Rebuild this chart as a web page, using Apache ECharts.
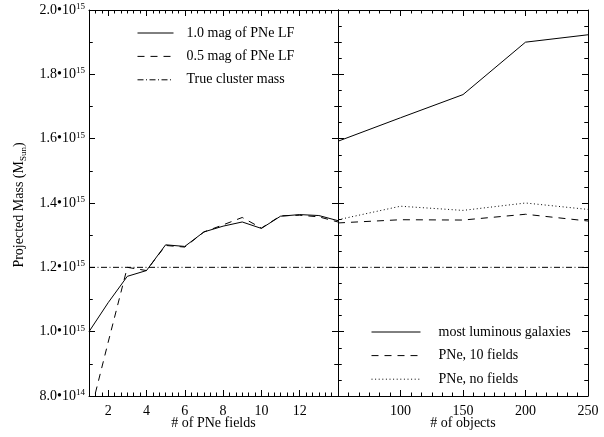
<!DOCTYPE html>
<html><head><meta charset="utf-8">
<script src="https://cdn.jsdelivr.net/npm/echarts@6/dist/echarts.min.js"></script>
<style>html,body{margin:0;padding:0;background:#fff}#c{width:604px;height:437px}</style>
</head><body><div id="c"></div>
<script>
// ---- data (mass in units of 1e15 M_sun) ----
const fieldCounts = [1,2,3,4,5,6,7,8,9,10,11,12,13,14];
const mass10mag = [1.0,1.09,1.172,1.19,1.27,1.265,1.31,1.328,1.341,1.321,1.359,1.364,1.361,1.345];
const mass05mag = [0.73,0.967,1.2,1.19,1.268,1.263,1.31,1.332,1.355,1.322,1.36,1.362,1.357,1.341];
const trueMass = 1.2;
const objectCounts = [50,100,150,200,250];
const massGalaxies = [1.592,1.665,1.737,1.90,1.923];
const massPNe10 = [1.338,1.348,1.347,1.365,1.344];
const massPNeNo = [1.348,1.39,1.377,1.40,1.38];
const fieldTickLabels = [2,4,6,8,10,12];
const objectTickLabels = [100,150,200,250];
const yMin = 0.8, yMax = 2.0, yStep = 0.2;
const fieldMin = 1, fieldMax = 14;
const objMin = 50, objMax = 250, objStep = 50;

const FONT = 'Liberation Serif';
const K = '#000';
const GL = {left:89, top:10, width:249, height:386};
const GR = {left:338, top:10, width:250, height:386};

function yFmt(v){
  if (v < 1 - 1e-9) return '{m|' + (v*10).toFixed(1) + '•10}{s|14}';
  return '{m|' + v.toFixed(1) + '•10}{s|15}';
}
function ts(){ return {color:K, width:1}; }
function lineOn(){ return {show:true, lineStyle:{color:K, width:1}}; }

const xAxes = [
  // 0: left panel, bottom: major ticks + labels
  {gridIndex:0, type:'value', position:'bottom', min:fieldMin, max:fieldMax,
   axisLine:lineOn(), splitLine:{show:false},
   axisTick:{show:true, inside:true, length:6, customValues:fieldTickLabels, lineStyle:ts()},
   axisLabel:{show:true, customValues:fieldTickLabels, color:K, fontFamily:FONT, fontSize:14, margin:8}},
  // 1: left panel, bottom: minor ticks
  {gridIndex:0, type:'value', position:'bottom', min:fieldMin, max:fieldMax, interval:1/3,
   axisLine:{show:false}, splitLine:{show:false}, axisLabel:{show:false},
   axisTick:{show:true, inside:true, length:3.5, lineStyle:ts()}},
  // 2: left panel, top edge (bottom axis shifted up, ticks pointing down)
  {gridIndex:0, type:'value', position:'bottom', offset:-GL.height, min:fieldMin, max:fieldMax,
   axisLine:lineOn(), splitLine:{show:false}, axisLabel:{show:false},
   axisTick:{show:true, inside:false, length:6, customValues:fieldTickLabels, lineStyle:ts()}},
  // 3: left panel, top edge minor ticks
  {gridIndex:0, type:'value', position:'bottom', offset:-GL.height, min:fieldMin, max:fieldMax, interval:1/3,
   axisLine:{show:false}, splitLine:{show:false}, axisLabel:{show:false},
   axisTick:{show:true, inside:false, length:3.5, lineStyle:ts()}},
  // 4: right panel bottom
  {gridIndex:1, type:'value', position:'bottom', min:objMin, max:objMax, interval:objStep,
   axisLine:lineOn(), splitLine:{show:false},
   axisTick:{show:true, inside:true, length:6, lineStyle:ts()},
   minorTick:{show:true, splitNumber:6, length:3.5, lineStyle:ts()},
   axisLabel:{show:true, customValues:objectTickLabels, color:K, fontFamily:FONT, fontSize:14, margin:8}},
  // 5: right panel top edge
  {gridIndex:1, type:'value', position:'bottom', offset:-GR.height, min:objMin, max:objMax, interval:objStep,
   axisLine:lineOn(), splitLine:{show:false}, axisLabel:{show:false},
   axisTick:{show:true, inside:false, length:6, lineStyle:ts()},
   minorTick:{show:true, splitNumber:6, length:3.5, lineStyle:ts()}}
];

function yLine(grid, pos, minorSplit, labels){
  const a = {gridIndex:grid, type:'value', position:pos, min:yMin, max:yMax, interval:yStep,
    axisLine:lineOn(), splitLine:{show:false},
    axisTick:{show:true, inside:true, length:6, lineStyle:ts()},
    minorTick:{show:true, splitNumber:minorSplit, length:3.5, lineStyle:ts()},
    axisLabel:{show:false}};
  if (labels){
    a.axisLabel = {show:true, formatter:yFmt, margin:4,
      rich:{m:{fontFamily:FONT, fontSize:14, color:K, lineHeight:16, verticalAlign:'middle'},
            s:{fontFamily:FONT, fontSize:9, color:K, lineHeight:9, verticalAlign:'top'}}};
  }
  return a;
}
// tick-only y axis placed on the opposite edge so its outward ticks point into the plot
function yTicks(grid, edge, width, minorSplit){
  return {gridIndex:grid, type:'value', position: edge === 'left' ? 'right' : 'left', offset:-width,
    min:yMin, max:yMax, interval:yStep,
    axisLine:{show:false}, splitLine:{show:false}, axisLabel:{show:false},
    axisTick:{show:true, inside:false, length:6, lineStyle:ts()},
    minorTick:{show:true, splitNumber:minorSplit, length:3.5, lineStyle:ts()}};
}
function pairs(xs, ys){ return xs.map((x,i)=>[x, ys[i]]); }
function ln(name, xi, yi, data, type){
  return {name, type:'line', xAxisIndex:xi, yAxisIndex:yi, data, symbol:'none',
    lineStyle:{color:K, width:1, type}, itemStyle:{color:K}};
}
const DASH = [7,6], DASHDOT = [6,2.5,1,2.5], DOT = [1,2.6];
const titleStyle = {fontFamily:FONT, fontSize:14, fontWeight:'normal', color:K};

const chart = echarts.init(document.getElementById('c'));
chart.setOption({
  animation:false,
  backgroundColor:'#fff',
  grid:[GL, GR],
  xAxis:xAxes,
  yAxis:[yLine(0,'left',2,true), yLine(0,'right',2,false),
         yTicks(0,'left',GL.width,2), yTicks(0,'right',GL.width,2),
         yLine(1,'left',4,false), yLine(1,'right',4,false),
         yTicks(1,'left',GR.width,4), yTicks(1,'right',GR.width,4)],
  title:[
    {text:'# of PNe fields', left:GL.left + GL.width/2, top:416, textAlign:'center', padding:0, textStyle:titleStyle},
    {text:'# of objects', left:GR.left + GR.width/2, top:416, textAlign:'center', padding:0, textStyle:titleStyle}
  ],
  graphic:[
    {type:'text', x:19, y:205, rotation:Math.PI/2, silent:true,
     style:{text:'Projected Mass (M{sub|Sun})', fill:K, fontFamily:FONT, fontSize:14, lineHeight:18,
            align:'center', verticalAlign:'middle',
            rich:{sub:{fontFamily:FONT, fontSize:9, fill:K, lineHeight:9, verticalAlign:'bottom'}}}}
  ],
  legend:[
    {data:['1.0 mag of PNe LF','0.5 mag of PNe LF','True cluster mass'], orient:'vertical',
     left:137, top:26, padding:0, itemWidth:36, itemHeight:14, itemGap:9.4, selectedMode:false,
     itemStyle:{opacity:0}, lineStyle:{width:1, color:K},
     textStyle:{fontFamily:FONT, fontSize:14, color:K, padding:[0,0,0,8]}},
    {data:['most luminous galaxies','PNe, 10 fields','PNe, no fields'], orient:'vertical',
     left:371, top:325, padding:0, itemWidth:49, itemHeight:14, itemGap:9.6, selectedMode:false,
     itemStyle:{opacity:0}, lineStyle:{width:1, color:K},
     textStyle:{fontFamily:FONT, fontSize:14, color:K, padding:[0,0,0,13]}}
  ],
  series:[
    ln('1.0 mag of PNe LF', 0, 0, pairs(fieldCounts, mass10mag), 'solid'),
    ln('0.5 mag of PNe LF', 0, 0, pairs(fieldCounts, mass05mag), DASH),
    ln('True cluster mass', 0, 0, [[fieldMin,trueMass],[fieldMax,trueMass]], DASHDOT),
    ln('most luminous galaxies', 4, 4, pairs(objectCounts, massGalaxies), 'solid'),
    ln('PNe, 10 fields', 4, 4, pairs(objectCounts, massPNe10), DASH),
    ln('PNe, no fields', 4, 4, pairs(objectCounts, massPNeNo), DOT),
    ln('True cluster mass (right)', 4, 4, [[objMin,trueMass],[objMax,trueMass]], DASHDOT)
  ]
});
</script></body></html>
